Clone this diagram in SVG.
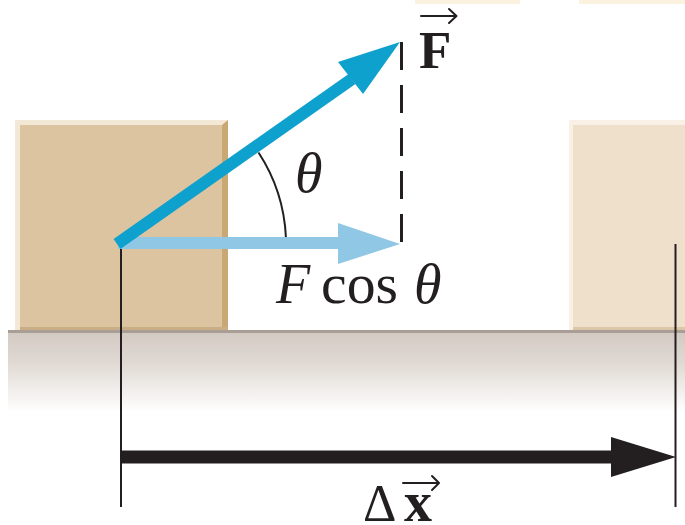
<svg xmlns="http://www.w3.org/2000/svg" width="685" height="525" viewBox="0 0 685 525">
  <defs>
    <linearGradient id="groundGrad" x1="0" y1="0" x2="0" y2="1">
      <stop offset="0" stop-color="#d2c9c1"/>
      <stop offset="0.4" stop-color="#e0d9d3"/>
      <stop offset="1" stop-color="#ffffff"/>
    </linearGradient>
    <style>
      .lbl { font-family: "Liberation Serif", "Times New Roman", serif; fill: #231f20; }
      .it { font-style: italic; }
      .bd { font-weight: bold; }
      .thin { stroke: #231f20; stroke-width: 2; fill: none; }
      .vec { stroke: #231f20; stroke-width: 2; fill: none; stroke-linecap: round; stroke-linejoin: round; }
    </style>
  </defs>

  <rect width="685" height="525" fill="#ffffff"/>

  <!-- faint strips at the top -->
  <g id="top-strips">
    <rect x="415" y="0" width="105" height="4" fill="#fcf2e0"/>
    <rect x="579" y="0" width="106" height="4" fill="#fcf2e0"/>
  </g>

  <!-- ground -->
  <g id="ground">
    <rect x="8" y="330" width="677" height="82" fill="url(#groundGrad)"/>
    <rect x="8" y="330" width="677" height="3" fill="#a99e95"/>
  </g>

  <!-- left block -->
  <g id="block-left">
    <rect x="15" y="120" width="213" height="210" fill="#f3e7d5"/>
    <polygon points="222,125 228,120 228,330 222,330" fill="#c9a873"/>
    <rect x="20" y="125" width="202" height="205" fill="#ddc4a1"/>
    <rect x="20" y="327" width="208" height="3" fill="#c9ad84"/>
  </g>

  <!-- right block -->
  <g id="block-right">
    <rect x="569" y="120" width="116" height="210" fill="#f9f1e6"/>
    <rect x="573" y="125" width="112" height="205" fill="#efe0cb"/>
    <rect x="573" y="327" width="112" height="3" fill="#dcc8a8"/>
  </g>

  <!-- connectors / vectors -->
  <g id="connectors">
    <!-- extension lines -->
    <line class="thin" x1="121" y1="248" x2="121" y2="507"/>
    <line class="thin" x1="675.5" y1="244" x2="675.5" y2="507"/>
    <!-- dashed projection -->
    <line x1="401.5" y1="42" x2="401.5" y2="245" stroke="#231f20" stroke-width="3" stroke-dasharray="28 15"/>
    <!-- angle arc -->
    <path class="thin" d="M 258.5 152.5 A 169 169 0 0 1 285.9 237"/>
    <!-- F cos theta component -->
    <g id="arrow-fcos">
      <rect x="118" y="237" width="224" height="12" fill="#8fc7e5"/>
      <polygon points="338,223 400,244 338,264" fill="#8fc7e5"/>
    </g>
    <!-- F vector -->
    <g id="arrow-F">
      <line x1="117" y1="244" x2="352" y2="79" stroke="#0fa1cd" stroke-width="12"/>
      <polygon points="400,42 338,62 363,94" fill="#0fa1cd"/>
    </g>
    <!-- displacement -->
    <g id="arrow-dx">
      <rect x="121" y="450.5" width="494" height="13" fill="#231f20"/>
      <polygon points="611,437 676,457 611,477" fill="#231f20"/>
    </g>
  </g>

  <!-- labels -->
  <g id="label-F">
    <text class="lbl bd" x="419" y="68" font-size="53">F</text>
    <path class="vec" d="M 421 16 H 456 M 449 9 L 456.5 16 L 449 23"/>
  </g>
  <g id="label-theta">
    <text class="lbl it" x="295" y="192" font-size="56">θ</text>
  </g>
  <g id="label-fcos">
    <text class="lbl it" x="276" y="303" font-size="56">F</text>
    <text class="lbl" x="321" y="303" font-size="58" textLength="77" lengthAdjust="spacingAndGlyphs">cos</text>
    <text class="lbl it" x="414" y="303" font-size="56">θ</text>
  </g>
  <g id="label-dx">
    <text class="lbl" x="363" y="521" font-size="52">Δ</text>
    <text class="lbl bd" x="404" y="521" font-size="56">x</text>
    <path class="vec" d="M 403 483 H 438 M 432 476 L 439 483 L 432 490"/>
  </g>
</svg>
